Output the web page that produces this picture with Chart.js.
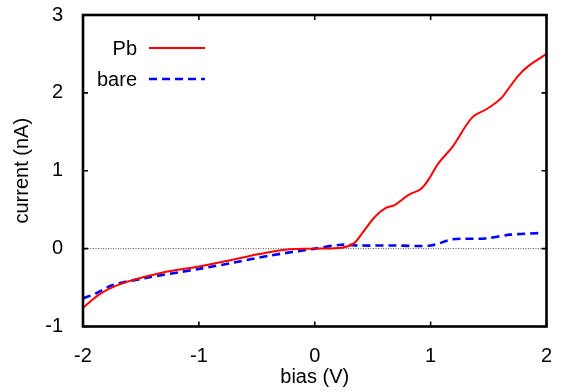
<!DOCTYPE html>
<html>
<head>
<meta charset="utf-8">
<script src="https://cdn.jsdelivr.net/npm/chart.js@4/dist/chart.umd.min.js"></script>
<style>
html,body{margin:0;padding:0;background:#fff;}
#wrap{width:563px;height:392px;}
</style>
</head>
<body>
<div id="wrap"><canvas id="c" width="563" height="392"></canvas></div>
<script>
const biasPb = [-2.0,-1.88,-1.78,-1.63,-1.32,-1.0,-0.70,-0.48,-0.24,0.0,0.23,0.34,0.41,0.52,0.61,0.69,0.81,0.91,0.97,1.07,1.19,1.31,1.37,1.47,1.56,1.62,1.75,1.84,2.0];
const currentPb = [-0.76,-0.61,-0.52,-0.43,-0.31,-0.23,-0.14,-0.07,-0.01,0.0,0.01,0.07,0.20,0.41,0.52,0.56,0.69,0.76,0.86,1.10,1.31,1.59,1.70,1.78,1.87,1.95,2.21,2.34,2.50];
const biasBare = [-2.0,-1.88,-1.75,-1.47,-1.0,-0.70,-0.39,0.0,0.23,0.38,0.70,1.0,1.19,1.47,1.69,1.95];
const currentBare = [-0.64,-0.57,-0.47,-0.38,-0.26,-0.18,-0.09,0.0,0.05,0.04,0.04,0.04,0.12,0.13,0.18,0.20];
const xTicks = [-2,-1,0,1,2];
const yTicks = [-1,0,1,2,3];
const seriesLabels = ["Pb","bare"];
const xTitle = "bias (V)";
const yTitle = "current (nA)";

const FONT = "'Liberation Sans', Arial, Helvetica, sans-serif";
const FS = 20;

const framePlugin = {
  id: 'frame',
  beforeDatasetsDraw(chart) {
    const {ctx, chartArea: a, scales: {y}} = chart;
    ctx.save();
    const y0 = y.getPixelForValue(0);
    ctx.strokeStyle = '#000';
    ctx.lineWidth = 0.7;
    ctx.setLineDash([1, 1.5]);
    ctx.beginPath();
    ctx.moveTo(a.left, y0);
    ctx.lineTo(a.right, y0);
    ctx.stroke();
    ctx.restore();
  },
  afterDatasetsDraw(chart) {
    const {ctx, chartArea: a, scales: {x, y}} = chart;
    ctx.save();
    ctx.strokeStyle = '#000';
    ctx.lineWidth = 2.6;
    ctx.setLineDash([]);
    ctx.strokeRect(a.left, a.top, a.right - a.left, a.bottom - a.top);
    ctx.lineWidth = 1.6;
    const L = 5;
    ctx.beginPath();
    xTicks.forEach(v => {
      const px = x.getPixelForValue(v);
      ctx.moveTo(px, a.bottom); ctx.lineTo(px, a.bottom - L);
      ctx.moveTo(px, a.top); ctx.lineTo(px, a.top + L);
    });
    yTicks.forEach(v => {
      const py = y.getPixelForValue(v);
      ctx.moveTo(a.left, py); ctx.lineTo(a.left + L, py);
      ctx.moveTo(a.right, py); ctx.lineTo(a.right - L, py);
    });
    ctx.stroke();
    // legend
    ctx.font = FS + "px " + FONT;
    ctx.fillStyle = '#000';
    ctx.textAlign = 'right';
    ctx.textBaseline = 'middle';
    const rows = [48, 79];
    chart.data.datasets.forEach((ds, i) => {
      const yy = rows[i];
      ctx.fillText(ds.label, 137, yy + 1);
      ctx.strokeStyle = ds.borderColor;
      ctx.lineWidth = ds.borderWidth;
      ctx.setLineDash(ds.borderDash || []);
      ctx.beginPath();
      ctx.moveTo(149, yy);
      ctx.lineTo(205, yy);
      ctx.stroke();
    });
    ctx.restore();
  }
};

new Chart(document.getElementById('c'), {
  type: 'line',
  data: {
    datasets: [
      {
        label: seriesLabels[0],
        data: biasPb.map((v, i) => ({x: v, y: currentPb[i]})),
        borderColor: '#ff0000',
        borderWidth: 2,
        pointRadius: 0,
        tension: 0.35,
        fill: false
      },
      {
        label: seriesLabels[1],
        data: biasBare.map((v, i) => ({x: v, y: currentBare[i]})),
        borderColor: '#0000ff',
        borderWidth: 2.6,
        borderDash: [8, 5],
        pointRadius: 0,
        tension: 0.3,
        fill: false
      }
    ]
  },
  options: {
    responsive: false,
    devicePixelRatio: 1,
    animation: false,
    layout: {padding: {top: 15, right: 16.5, left: 0, bottom: 0}},
    plugins: {legend: {display: false}, tooltip: {enabled: false}},
    scales: {
      x: {
        type: 'linear',
        min: -2, max: 2,
        grid: {display: false},
        border: {display: false},
        afterBuildTicks: s => { s.ticks = xTicks.map(v => ({value: v})); },
        afterFit: s => { s.height = 65.5; s.paddingLeft = 0; s.paddingRight = 0; },
        ticks: {
          color: '#000',
          padding: 10,
          font: {family: FONT, size: FS},
          maxRotation: 0,
          callback: v => String(v)
        },
        title: {
          display: true,
          text: xTitle,
          color: '#000',
          font: {family: FONT, size: FS},
          padding: {top: 0, bottom: 3}
        }
      },
      y: {
        type: 'linear',
        min: -1, max: 3,
        grid: {display: false},
        border: {display: false},
        afterBuildTicks: s => { s.ticks = yTicks.map(v => ({value: v})); },
        afterFit: s => { s.width = 83; s.paddingTop = 0; s.paddingBottom = 0; },
        ticks: {
          color: '#000',
          padding: 12,
          font: {family: FONT, size: FS},
          callback: v => String(v)
        },
        title: {
          display: true,
          text: yTitle,
          color: '#000',
          font: {family: FONT, size: FS},
          padding: {top: 10, bottom: 0}
        }
      }
    }
  },
  plugins: [framePlugin]
});
</script>
</body>
</html>
